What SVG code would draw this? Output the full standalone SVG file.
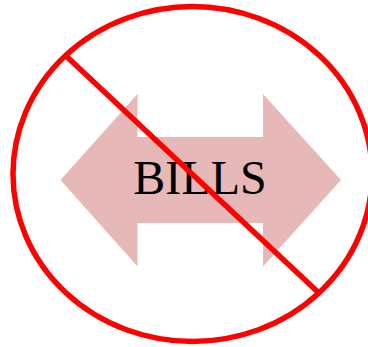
<svg xmlns="http://www.w3.org/2000/svg" width="368" height="347" viewBox="0 0 368 347"><style>.r{fill:none;stroke:#f00;stroke-width:5.5}</style><g id="arrow"><polygon points="60.500,180 137.500,94 137.500,137 263,137 263,94 341,180 263,266.500 263,223 137.500,223 137.500,266.500" fill="#e6b8b7"/><text x="200" y="193.500" font-family="'Liberation Serif',serif" font-size="48" text-anchor="middle" fill="#000">BILLS</text></g><g id="sign"><ellipse class="r" cx="192.500" cy="174" rx="179.500" ry="167.500"/><line class="r" x1="65" y1="55" x2="320" y2="294"/></g></svg>
